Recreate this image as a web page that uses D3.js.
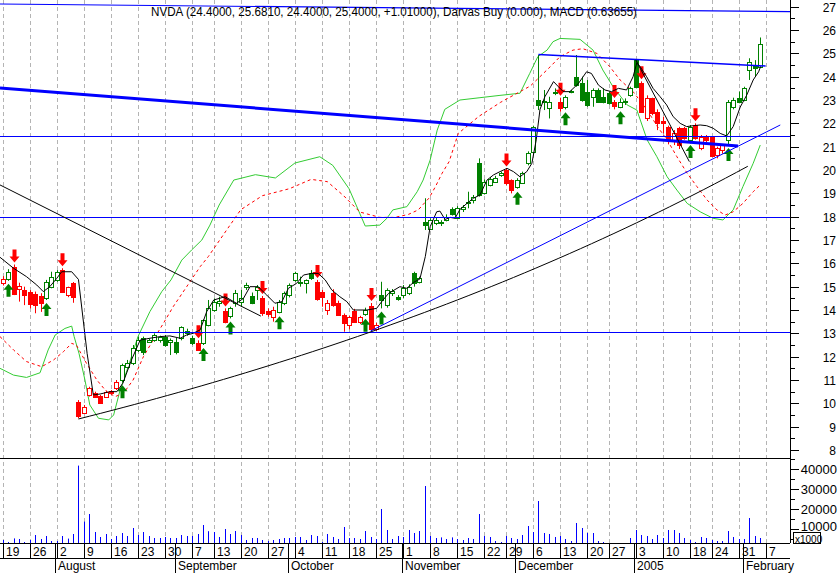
<!DOCTYPE html>
<html><head><meta charset="utf-8">
<script src="https://cdn.jsdelivr.net/npm/d3@7"></script>
<style>
html,body{margin:0;padding:0;background:#fff;}
svg{display:block;}
text{font-family:"Liberation Sans",Arial,sans-serif;font-size:12px;fill:#000;}
</style></head><body>
<svg id="chart" width="839" height="573"></svg>
<script>
// ---------------- DATA ----------------
const titleText = "NVDA (24.4000, 25.6810, 24.4000, 25.4000, +1.01000), Darvas Buy (0.000), MACD (0.63655)";
const firstDay = "2004-07-19", lastAxisDay = "2005-02-07";
const holidays = ["2004-09-06","2004-11-25","2004-12-24","2005-01-17"];
const monthNames = ["January","February","March","April","May","June","July","August","September","October","November","December"];

const opens  = [15.17,15.31,15.83,14.89,14.86,14.79,14.69,14.60,14.50,15.00,15.29,15.71,14.64,15.14,10.07,9.60,10.36,10.46,10.31,10.29,10.52,10.64,11.00,11.57,11.71,12.29,12.79,12.64,12.71,12.70,12.86,12.64,12.64,12.79,13.00,12.79,12.60,12.57,13.36,14.00,14.29,13.97,13.74,14.29,14.36,15.00,14.60,14.86,14.50,13.97,13.69,13.93,14.29,14.64,15.29,15.14,15.14,15.57,15.21,14.79,14.00,14.74,14.31,13.79,13.36,13.97,13.50,13.83,14.17,13.17,14.64,14.21,14.75,14.57,14.64,14.71,15.60,15.21,17.79,17.46,17.74,17.71,17.86,18.31,17.93,18.31,18.57,18.71,20.30,19.03,19.36,19.50,19.79,20.00,19.57,19.29,19.43,20.29,20.79,23.00,22.90,22.64,23.29,22.93,22.69,23.34,24.00,23.71,23.36,23.14,23.43,23.14,23.29,22.93,22.71,22.93,23.21,24.71,23.71,22.21,23.07,22.50,22.10,21.86,21.29,21.79,21.79,21.29,21.93,20.93,21.43,21.40,20.64,20.86,21.29,22.70,23.07,23.00,24.29,24.50,24.40];
const highs  = [15.45,15.75,15.95,15.17,15.00,14.85,14.79,14.72,15.29,15.64,15.71,15.79,15.00,15.20,10.14,9.93,10.71,10.50,10.36,10.55,10.57,11.00,11.70,11.86,12.50,12.86,12.86,12.78,13.00,12.90,12.93,12.78,12.80,13.30,13.20,12.90,12.70,13.60,14.43,14.50,14.57,14.07,14.14,14.86,14.86,15.17,14.75,15.07,14.60,14.07,14.14,14.43,14.79,15.14,15.64,15.43,15.31,15.71,15.29,14.86,14.43,14.89,14.40,13.85,13.75,14.05,13.75,14.10,14.30,13.45,15.21,14.93,14.90,14.64,15.07,15.10,15.64,15.43,18.79,17.93,17.97,17.85,18.10,18.40,18.45,18.50,19.07,18.93,20.50,19.60,19.70,19.75,19.93,20.07,19.60,19.65,19.93,20.80,21.90,24.93,23.43,23.14,23.50,23.10,23.20,23.43,24.93,24.00,23.86,23.50,23.50,23.50,23.36,23.00,23.07,23.07,23.57,24.75,23.80,23.20,23.10,22.60,22.29,21.90,21.71,21.85,21.85,21.93,22.00,21.50,21.50,21.45,21.00,21.10,23.00,23.10,23.36,23.57,24.79,24.71,25.68];
const lows   = [15.05,15.25,14.64,14.36,14.21,14.07,13.86,13.92,14.43,14.93,15.21,14.75,14.55,14.31,9.36,9.55,10.29,10.24,10.00,10.25,10.40,10.57,10.90,11.50,11.64,12.20,12.07,12.60,12.64,12.60,12.43,12.07,12.10,12.70,12.90,12.50,12.25,12.50,13.30,13.93,14.14,13.43,13.64,14.14,14.14,14.86,14.25,14.43,13.75,13.71,13.50,13.86,14.21,14.54,15.21,15.00,14.71,15.29,14.40,14.14,13.79,14.14,13.75,13.07,13.17,13.45,13.40,13.75,13.10,13.10,14.07,14.10,14.60,14.40,14.50,14.64,15.00,15.14,17.43,17.43,17.64,17.60,17.80,18.05,17.90,18.20,18.36,18.57,18.86,18.95,19.30,19.45,19.71,19.35,19.00,19.20,19.40,20.20,20.70,22.57,22.57,22.21,23.21,22.50,22.60,23.29,23.57,22.93,22.71,22.71,22.90,22.86,22.80,22.60,22.65,22.79,23.14,23.50,22.45,22.10,22.35,21.71,21.57,21.10,21.07,20.90,21.30,21.20,21.30,20.85,21.20,20.55,20.50,20.70,21.07,22.60,22.86,22.95,23.86,24.00,24.40];
const closes = [15.31,15.64,14.69,15.03,14.64,14.26,14.21,14.29,15.21,15.43,15.64,14.79,14.97,14.54,9.46,9.86,10.64,10.29,10.03,10.50,10.45,10.93,11.64,11.74,12.36,12.71,12.20,12.71,12.93,12.86,12.50,12.70,12.20,13.26,13.10,12.57,12.29,13.57,14.07,14.36,14.39,13.50,14.07,14.71,14.50,15.07,14.31,15.00,13.86,13.83,14.00,14.36,14.71,15.07,15.57,15.21,15.29,15.36,14.46,14.57,14.29,14.21,13.79,13.43,13.71,13.50,13.69,14.00,13.17,13.36,14.43,14.86,14.80,14.46,14.93,15.00,15.14,15.36,17.64,17.86,17.86,17.79,18.00,18.11,18.36,18.43,18.64,18.86,18.93,19.50,19.60,19.64,19.86,19.43,19.14,19.57,19.86,20.71,21.86,22.79,22.97,22.90,23.36,22.64,23.14,23.37,23.64,23.00,22.79,23.43,22.93,22.93,22.86,22.74,22.93,22.95,23.50,23.57,22.50,23.07,22.43,22.00,22.00,21.29,21.57,21.07,21.36,21.86,21.36,21.43,21.29,20.60,20.93,21.07,22.93,23.00,22.93,23.50,24.64,24.39,25.40];
const volumes = [4500,3500,5300,5000,3500,4500,7000,5000,6500,4000,4000,6500,5200,7500,41700,13700,17500,8500,6000,7500,5000,6500,8000,6500,10500,7000,8500,6500,5500,5500,6000,5500,5500,7000,6500,6500,7500,12000,8900,8500,6000,10000,7500,9000,7000,4500,5500,5500,4500,4000,4500,5000,5500,5500,6000,6000,4500,7000,6500,3500,7500,6000,5000,11000,5500,5500,5000,9000,6000,5000,20000,9500,5000,6500,6000,9500,8000,9000,31500,6500,5500,5800,5000,5800,5000,4500,5500,5000,17500,6500,6000,4000,3500,6500,5500,5000,7000,11500,8500,24000,8000,7500,6000,6500,5000,4000,13000,10500,8000,8000,4000,3500,2500,2500,2500,2500,5500,9500,7000,6500,5000,7000,5500,9500,9500,8000,5500,4500,3500,6000,5500,4500,4000,4000,9000,6000,5000,5000,15500,6500,5500];

const buySignals  = [1,8,22,37,42,51,67,70,95,104,114,127,134];
const sellSignals = [2,11,36,41,48,58,68,93,103,113,118,128];

// indicator lines: [bar index, price]
const maLine = [[-0.5,16.26],[2,15.79],[4.4,15.43],[6.3,15.07],[7.5,14.79],[8.7,15.0],[10,15.36],[10.9,15.64],[12.75,15.64],[14,15.31],[15.6,12.14],[16.75,10.36],[18,10.4],[19.8,10.5],[21.1,10.5],[22.2,10.86],[23.8,11.86],[25.4,12.71],[27.2,12.79],[29.1,12.86],[30.9,12.89],[32.8,12.79],[34,12.93],[35.2,13.0],[36.5,13.15],[37.7,13.93],[39,14.43],[41.1,14.57],[43.2,14.29],[44.5,14.5],[45.7,15.0],[47.2,15.0],[48.8,14.64],[50.3,14.29],[51.6,14.36],[52.8,14.93],[54.3,15.14],[55.6,15.5],[57.1,15.57],[58.3,15.57],[59.6,15.29],[60.8,14.86],[62.3,14.57],[63.6,14.36],[64.8,14.0],[67.3,14.0],[69.1,14.07],[70.05,14.36],[71.3,14.71],[73.4,15.0],[74.7,14.93],[75.9,15.18],[77.1,15.33],[78.1,16.29],[79,17.57],[80.2,18.21],[80.8,18.24],[81.75,17.88],[82.7,17.97],[83.6,17.93],[84.5,18.31],[85.8,18.57],[87,18.79],[88.2,18.93],[89.5,19.57],[90.7,19.79],[91.9,19.93],[93.2,20.07],[94.4,19.93],[95.6,19.71],[96.85,19.93],[97.8,20.29],[98.6,21.29],[99.3,22.6],[100.2,23.14],[101.8,23.79],[102.7,23.57],[103.6,23.36],[104.8,23.36],[106.4,23.71],[107.9,24.21],[108.8,24.14],[110.1,23.64],[111.3,23.43],[112.5,23.36],[113.8,23.5],[115.3,23.43],[116.5,24.0],[117.2,24.6],[117.8,24.43],[119,24.0],[120.2,23.5],[121.5,23.14],[122.7,22.79],[123.9,22.29],[125.2,22.0],[126.4,21.86],[127.6,21.9],[128.9,21.93],[130.1,21.9],[131.3,21.79],[132.6,21.57],[133.8,21.46],[135,21.86],[136.3,22.7],[137.5,23.21],[138.7,23.86],[139.7,24.21],[140.1,24.45]];
const greenLine = [[-0.5,11.5],[2,11.21],[4.4,11.11],[6.9,11.31],[8.4,12.29],[9.7,12.93],[11.5,13.21],[12.75,13.31],[13.2,12.86],[14.1,12.14],[15.2,11.0],[16.1,9.93],[17.7,9.36],[19.6,9.29],[20.5,9.5],[21.7,10.57],[23.2,11.57],[25,12.86],[27.2,13.93],[29.4,14.79],[31.1,15.29],[33.1,16.14],[34.9,16.57],[36.8,17.0],[38.3,17.64],[40,18.5],[42.7,19.57],[46.7,19.8],[50.4,19.66],[54,20.3],[58.6,20.57],[61,20.2],[64,19.2],[67,17.6],[69.7,17.64],[71,17.93],[72.1,18.29],[74.7,18.43],[76.6,19.07],[77.7,19.57],[79,20.43],[80.3,21.71],[81.7,22.6],[84.5,23.0],[88.2,23.1],[91.9,23.2],[95.6,23.29],[97.4,24.14],[98.9,24.86],[100.6,25.14],[101.7,25.5],[103,25.64],[106.7,25.6],[109.1,25.14],[110.9,24.29],[112.8,23.57],[115.4,22.79],[117.2,22.57],[119.1,21.29],[120.9,20.57],[122.8,19.71],[124.6,19.14],[126.5,18.57],[128.9,18.21],[131.3,17.93],[133.1,17.86],[135,18.29],[136.8,19.29],[138.7,20.29],[140,21.07]];
const redLine = [[-0.5,12.86],[2,12.29],[4.4,11.79],[7.2,11.57],[9.4,11.86],[11.2,12.21],[12.75,12.57],[13.6,12.5],[15.5,11.71],[17.4,11.0],[19.2,10.5],[20.8,10.29],[22.3,10.43],[24.1,11.0],[26,12.0],[27.8,12.71],[29.7,13.43],[31.5,14.14],[34,15.0],[36.5,15.86],[38,16.29],[41,17.3],[44,18.3],[48,18.9],[53,19.2],[57,19.6],[60,19.5],[63,18.9],[66,18.2],[69.7,17.97],[72.5,17.97],[75,18.1],[76.8,18.29],[78,18.6],[78.8,18.8],[80,19.3],[81.2,19.86],[82.5,20.36],[84.2,21.57],[88,22.3],[92,22.9],[95.6,23.36],[97.5,23.6],[99.3,24.0],[101.2,24.43],[103,24.86],[105.4,25.14],[107.2,25.2],[109.8,25.0],[112.2,24.43],[114.1,23.86],[116.5,23.36],[119.1,22.57],[121,21.86],[122.8,21.29],[124.6,20.57],[126.5,19.86],[128.3,19.29],[130.2,18.71],[132,18.29],[133.5,18.07],[135,18.21],[136.8,18.57],[138.7,19.07],[140,19.36]];

// trend lines [bar index, price] endpoints
const blueLevels = [13.04, 18.0, 21.46];
const blueTop   = [[-0.5,27.116],[145.5,26.786]];
const blueThick = [[-0.5,23.52],[135.9,21.03]];
const blueDec   = [[99,24.95],[141,24.46]];
const blueRise  = [[68,13.1],[143.7,21.93]];
const blackDown = [[-0.5,19.36],[47.7,13.74]];
const blackJan  = [[117,24.72],[126.9,20.36]];
const blackCurve= [[14,9.33],[137.7,20.16]]; // straight on a log scale

const priceTicks = d3.range(8, 28, 1);
const priceMinor = d3.range(8.5, 27.5, 1);
const volTicks = [10000,20000,30000,40000];
const volMinor = [5000,15000,25000,35000,45000];

// ---------------- LAYOUT ----------------
const svg = d3.select("#chart");
const plotR = 790, volBase = 543, sepY = 458, dayRowB = 558;
const N = closes.length;

function parse(s){const [y,m,d]=s.split("-").map(Number);return new Date(Date.UTC(y,m-1,d));}
function key(d){return d.toISOString().slice(0,10);}
const dates = [];
for(let d=parse(firstDay); d<=parse(lastAxisDay); d=new Date(d.getTime()+86400000)){
  const w=d.getUTCDay(); if(w===0||w===6||holidays.includes(key(d))) continue; dates.push(d);
}

const x = d3.scaleLinear().domain([-0.5,145.5]).range([0,plotR]);
const y = d3.scaleLinear().domain([8,27]).range([450,6.7]);
const yv = d3.scaleLinear().domain([0,40000]).range([549,469]);

const weekIdx = dates.map((d,i)=>i).filter(i=>i===0||dates[i].getUTCDay()<dates[i-1].getUTCDay());
const monthIdx = dates.map((d,i)=>i).filter(i=>i>0&&dates[i].getUTCMonth()!==dates[i-1].getUTCMonth());

const grid = svg.append("g");
weekIdx.forEach(i=>{
  const xx=Math.round(x(i))+0.5;
  grid.append("line").attr("x1",xx).attr("x2",xx).attr("y1",0).attr("y2",volBase)
    .attr("stroke","#b4b4b4").attr("stroke-dasharray","4,3");
});

svg.append("clipPath").attr("id","pc").append("rect").attr("x",0).attr("y",0).attr("width",plotR).attr("height",sepY);
const price = svg.append("g").attr("clip-path","url(#pc)");

const state = [];
let s = "sell";
for(let i=0;i<N;i++){ if(buySignals.includes(i)) s="buy"; if(sellSignals.includes(i)) s="sell"; state.push(s); }
const colOf = i => state[i]==="buy" ? "#008000" : "#ff0000";

const vg = svg.append("g");
volumes.forEach((v,i)=>{
  const xx=Math.round(x(i))+0.5, top=Math.min(volBase,yv(v));
  vg.append("line").attr("x1",xx).attr("x2",xx).attr("y1",volBase).attr("y2",top).attr("stroke","#0000ff").attr("stroke-width",1);
});

const line = d3.line().x(d=>x(d[0])).y(d=>y(d[1]));
price.append("path").attr("d",line(greenLine)).attr("fill","none").attr("stroke","#33cc33").attr("stroke-width",1);
price.append("path").attr("d",line(redLine)).attr("fill","none").attr("stroke","#ff0000").attr("stroke-width",1).attr("stroke-dasharray","3,3");

const cg = price.append("g");
for(let i=0;i<N;i++){
  const cx=Math.round(x(i)), c=colOf(i);
  cg.append("line").attr("x1",cx+0.5).attr("x2",cx+0.5).attr("y1",y(highs[i])).attr("y2",y(lows[i])).attr("stroke",c);
  const t=Math.round(y(Math.max(opens[i],closes[i]))), b=Math.round(y(Math.min(opens[i],closes[i])));
  const filled = closes[i]<opens[i];
  cg.append("rect").attr("x",cx-1.5).attr("y",t+0.5).attr("width",4).attr("height",Math.max(1,b-t))
    .attr("fill",filled?c:"#fff").attr("stroke",c).attr("stroke-width",1);
}

function arrow(cx,tip,dir){
  const h=6,H=13,hw=5,sw=2;
  const p=[[cx,tip],[cx-hw,tip+dir*h],[cx-sw,tip+dir*h],[cx-sw,tip+dir*H],[cx+sw,tip+dir*H],[cx+sw,tip+dir*h],[cx+hw,tip+dir*h]];
  return p.map(q=>q.join(",")).join(" ");
}
buySignals.forEach(i=>{ const cx=Math.round(x(i))+0.5;
  price.append("polygon").attr("points",arrow(cx,y(lows[i])+3,1)).attr("fill","#008000"); });
sellSignals.forEach(i=>{ const cx=Math.round(x(i))+0.5;
  price.append("polygon").attr("points",arrow(cx,y(highs[i])-2,-1)).attr("fill","#ff0000"); });

price.append("path").attr("d",line(maLine)).attr("fill","none").attr("stroke","#000").attr("stroke-width",1);

blueLevels.forEach(v=>price.append("line").attr("x1",0).attr("x2",plotR).attr("y1",Math.round(y(v))+0.5).attr("y2",Math.round(y(v))+0.5)
  .attr("stroke","#0000ff").attr("stroke-width",1).attr("shape-rendering","crispEdges"));
const seg=(pts,col,w)=>price.append("path").attr("d",line(pts)).attr("fill","none").attr("stroke",col).attr("stroke-width",w);
seg(blueTop,"#0000ff",1.2);
seg(blueThick,"#0000ff",3);
seg(blueDec,"#0000ff",1.5);
seg(blueRise,"#0000ff",1);
seg(blackDown,"#000",1);
seg(blackJan,"#000",1);
const [c0,c1]=blackCurve;
const curvePts=d3.range(0,61).map(k=>{const f=k/60;return [c0[0]+(c1[0]-c0[0])*f, c0[1]*Math.pow(c1[1]/c0[1],f)];});
seg(curvePts,"#000",1);

const fr=(x1,y1,x2,y2)=>svg.append("line").attr("x1",x1).attr("y1",y1).attr("x2",x2).attr("y2",y2).attr("stroke","#000").attr("stroke-width",1);
fr(0,sepY+0.5,plotR,sepY+0.5);
fr(0,volBase+0.5,plotR,volBase+0.5);
fr(0,dayRowB+0.5,plotR,dayRowB+0.5);
fr(plotR+0.5,0,plotR+0.5,volBase);

priceTicks.forEach(v=>{const yy=Math.round(y(v))+0.5; fr(plotR,yy,plotR+9,yy);
  svg.append("text").attr("x",836).attr("y",yy).attr("dy","0.36em").attr("text-anchor","end").text(v);});
priceMinor.forEach(v=>{const yy=Math.round(y(v))+0.5; fr(plotR,yy,plotR+5,yy);});
volTicks.forEach(v=>{const yy=Math.round(yv(v))+0.5; fr(plotR,yy,plotR+9,yy);
  svg.append("text").attr("x",837).attr("y",v===10000?yy+1:yy).attr("dy",v===10000?"0":"0.36em").attr("text-anchor","end").style("font-size","13px").text(v);});
volMinor.forEach(v=>{const yy=Math.round(yv(v))+0.5; fr(plotR,yy,plotR+5,yy);});
svg.append("rect").attr("x",793.5).attr("y",532.5).attr("width",27).attr("height",11).attr("fill","#fff").attr("stroke","#000");
svg.append("text").attr("x",795).attr("y",542.5).style("font-size","10px").text("x1000");

weekIdx.forEach(i=>{const xx=Math.round(x(i))+0.5; fr(xx,volBase,xx,dayRowB);
  svg.append("text").attr("x",xx+2.5).attr("y",555.5).text(dates[i].getUTCDate());});
monthIdx.forEach(i=>{const xx=Math.round(x(i-0.25))+0.5; fr(xx,volBase,xx,573);
  const m=dates[i].getUTCMonth();
  svg.append("text").attr("x",xx+2.5).attr("y",570).text(m===0?String(dates[i].getUTCFullYear()):monthNames[m]);});

svg.append("text").attr("x",151).attr("y",15.5).attr("textLength",486).attr("lengthAdjust","spacingAndGlyphs").text(titleText);
</script>
</body></html>
